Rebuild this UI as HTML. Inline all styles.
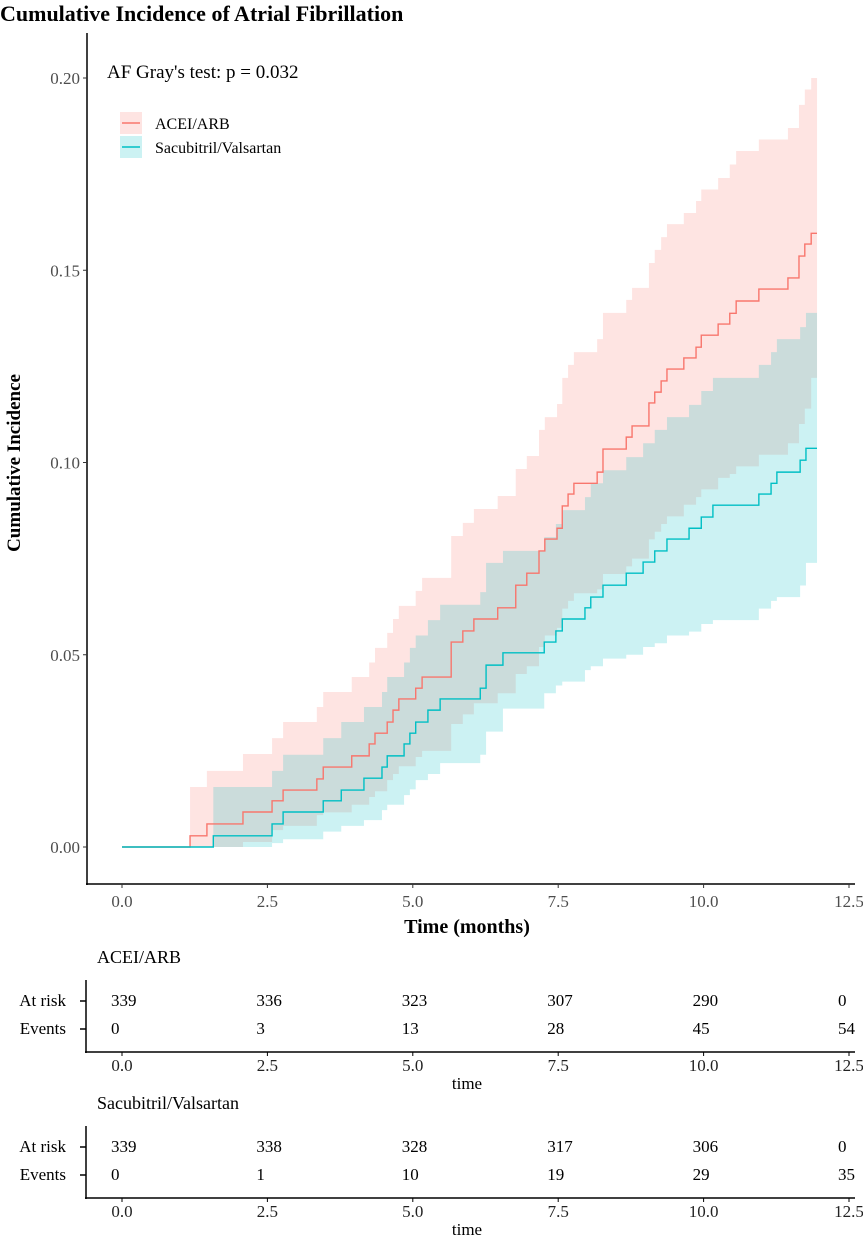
<!DOCTYPE html>
<html><head><meta charset="utf-8"><style>
html,body{margin:0;padding:0;background:#fff;}
svg{display:block;font-family:"Liberation Serif",serif;}
</style></head><body>
<svg id="c" width="863" height="1240" viewBox="0 0 863 1240">
<text x="0" y="21" font-size="22" font-weight="bold" fill="#000">Cumulative Incidence of Atrial Fibrillation</text>
<g id="plot"></g>
<line x1="87" y1="33" x2="87" y2="885" stroke="#000" stroke-width="1.5"/>
<line x1="86" y1="884" x2="855" y2="884" stroke="#000" stroke-width="1.5"/>
<g id="yticks"></g>
<g id="xticks"></g>
<text x="467" y="933" font-size="20" font-weight="bold" text-anchor="middle">Time (months)</text>
<text transform="translate(20,463) rotate(-90)" font-size="19" font-weight="bold" text-anchor="middle">Cumulative Incidence</text>
<text x="107" y="78" font-size="19">AF Gray's test: p = 0.032</text>
<g>
<rect x="120" y="112" width="22" height="22" fill="#F8766D" fill-opacity="0.2"/>
<line x1="122" y1="123" x2="140" y2="123" stroke="#F8766D" stroke-width="1.5"/>
<text x="155" y="129" font-size="16">ACEI/ARB</text>
<rect x="120" y="136" width="22" height="22" fill="#00BFC4" fill-opacity="0.2"/>
<line x1="122" y1="147" x2="140" y2="147" stroke="#00BFC4" stroke-width="1.5"/>
<text x="155" y="153" font-size="16">Sacubitril/Valsartan</text>
</g>
<g id="tables"></g>
</svg>
<script>
const aceiTimes=[0,1.17,1.46,2.08,2.58,2.77,3.35,3.46,3.95,4.25,4.35,4.56,4.66,4.76,5.05,5.16,5.66,5.86,6.05,6.46,6.77,6.96,7.17,7.27,7.48,7.57,7.67,7.77,8.17,8.27,8.67,8.77,9.06,9.16,9.27,9.37,9.66,9.87,9.96,10.25,10.45,10.56,10.95,11.45,11.64,11.74,11.85];
const aceiEst=[0,.0029,.006,.0091,.012,.0148,.0177,.0208,.0237,.0268,.0296,.0325,.0356,.0385,.0413,.0442,.0533,.0562,.0593,.0622,.0681,.0712,.077,.0801,.0829,.0887,.0918,.0946,.0975,.1035,.1066,.1095,.1155,.1183,.1212,.1243,.1272,.13,.1331,.136,.1388,.142,.1451,.148,.1537,.1568,.1596];
const aceiUpper=[0,.0156,.0198,.0242,.0283,.0325,.0364,.0403,.0442,.048,.0518,.0557,.0593,.0627,.0666,.07,.0809,.0843,.0879,.0913,.0983,.1017,.1085,.1118,.1152,.122,.1254,.1287,.1321,.1389,.1423,.1454,.1519,.1553,.1586,.162,.1649,.168,.171,.174,.1775,.181,.184,.187,.193,.197,.2];
const aceiLower=[0,0,0,.0013,.0044,.0055,.0083,.009,.011,.013,.0145,.0174,.019,.021,.0234,.025,.032,.0345,.0374,.04,.045,.047,.052,.055,.057,.062,.064,.066,.067,.071,.073,.075,.08,.082,.084,.086,.089,.091,.093,.096,.097,.099,.102,.105,.11,.114,.122];
const sacTimes=[0,1.57,2.58,2.77,3.46,3.77,4.16,4.47,4.56,4.85,4.95,5.05,5.26,5.47,6.16,6.26,6.55,7.26,7.46,7.57,7.96,8.06,8.27,8.67,8.96,9.16,9.37,9.75,9.96,10.16,10.95,11.16,11.26,11.66,11.76];
const sacEst=[0,.0029,.006,.0091,.012,.0148,.0179,.0208,.0237,.0268,.0296,.0325,.0356,.0385,.0413,.0473,.0505,.0533,.0562,.0593,.0622,.065,.0681,.0712,.0741,.077,.0801,.0829,.0858,.0889,.0918,.0946,.0975,.1006,.1037];
const sacUpper=[0,.0156,.0198,.024,.0283,.0325,.0364,.0403,.0442,.048,.0518,.055,.059,.063,.0663,.0739,.077,.0806,.084,.0876,.091,.0946,.098,.1014,.105,.1085,.1118,.115,.1186,.122,.1254,.1287,.1321,.1352,.1389];
const sacLower=[0,0,.001,.002,.004,.0055,.007,.0096,.011,.0135,.015,.0174,.019,.0218,.024,.03,.036,.04,.042,.043,.046,.047,.049,.05,.052,.053,.055,.056,.058,.059,.062,.064,.065,.068,.0739];
const endTime=11.95;
const xTicks=[0,2.5,5,7.5,10,12.5];
const xTickLabels=["0.0","2.5","5.0","7.5","10.0","12.5"];
const yTicks=[0,0.05,0.1,0.15,0.2];
const yTickLabels=["0.00","0.05","0.10","0.15","0.20"];
const aceiAtRisk=[339,336,323,307,290,0];
const aceiEvents=[0,3,13,28,45,54];
const sacAtRisk=[339,338,328,317,306,0];
const sacEvents=[0,1,10,19,29,35];

const NS="http://www.w3.org/2000/svg";
const X=t=>122+t*58.16;
const Y=v=>847-v*3845;
function mk(tag,attrs,parent){const e=document.createElementNS(NS,tag);for(const k in attrs)e.setAttribute(k,attrs[k]);parent.appendChild(e);return e;}
function stepPath(ts,vs){let d=`M${X(ts[0])},${Y(vs[0])}`;for(let i=1;i<ts.length;i++){d+=`H${X(ts[i])}V${Y(vs[i])}`;}d+=`H${X(endTime)}`;return d;}
function bandPath(ts,up,lo){let d=`M${X(ts[0])},${Y(up[0])}`;for(let i=1;i<ts.length;i++){d+=`H${X(ts[i])}V${Y(up[i])}`;}d+=`H${X(endTime)}V${Y(lo[lo.length-1])}`;for(let i=ts.length-1;i>0;i--){d+=`H${X(ts[i])}V${Y(lo[i-1])}`;}d+=`H${X(ts[0])}Z`;return d;}
const plot=document.getElementById('plot');
const b1=mk('path',{d:bandPath(aceiTimes,aceiUpper,aceiLower),fill:'#F8766D','fill-opacity':0.2},plot);


const b2=mk('path',{d:bandPath(sacTimes,sacUpper,sacLower),fill:'#00BFC4','fill-opacity':0.2},plot);


const l1=mk('path',{d:stepPath(aceiTimes,aceiEst),fill:'none',stroke:'#F8766D','stroke-width':1.4},plot);


const l2=mk('path',{d:stepPath(sacTimes,sacEst),fill:'none',stroke:'#00BFC4','stroke-width':1.4},plot);


const yt=document.getElementById('yticks');
yTicks.forEach((v,i)=>{
 mk('line',{x1:83,x2:87,y1:Y(v),y2:Y(v),stroke:'#333'},yt);
 const t=mk('text',{x:80,y:Y(v)+6,'font-size':17,'text-anchor':'end',fill:'#4d4d4d'},yt);
 t.textContent=yTickLabels[i];
 
 
});
const xt=document.getElementById('xticks');
xTicks.forEach((v,i)=>{
 mk('line',{x1:X(v),x2:X(v),y1:884,y2:888,stroke:'#333'},xt);
 const t=mk('text',{x:X(v),y:907,'font-size':17,'text-anchor':'middle',fill:'#4d4d4d'},xt);
 t.textContent=xTickLabels[i];
 
 
});
const tb=document.getElementById('tables');
function table(title,top,risk,ev,key){
 const g=mk('g',{},tb);
 
 
 const tt=mk('text',{x:97,y:top,'font-size':18},g);tt.textContent=title;
 
 
 const r=top+43,e=top+71,ax=top+89;
 mk('line',{x1:86,x2:86,y1:top+17,y2:ax+1,stroke:'#000','stroke-width':1.5},g);
 mk('line',{x1:85,x2:855,y1:ax,y2:ax,stroke:'#000','stroke-width':1.5},g);
 [[r,'At risk'],[e,'Events']].forEach(([y,lab])=>{
  mk('line',{x1:80,x2:86,y1:y-5,y2:y-5,stroke:'#000','stroke-width':1.5},g);
  const l=mk('text',{x:66,y:y,'font-size':17,'text-anchor':'end'},g);l.textContent=lab;
  
  
 });
 xTicks.forEach((v,i)=>{
  const a=mk('text',{x:X(v)-11,y:r,'font-size':17},g);a.textContent=risk[i];
  
  
  const b=mk('text',{x:X(v)-11,y:e,'font-size':17},g);b.textContent=ev[i];
  
  
  mk('line',{x1:X(v),x2:X(v),y1:ax,y2:ax+4,stroke:'#000'},g);
  const k=mk('text',{x:X(v),y:ax+19,'font-size':17,'text-anchor':'middle',fill:'#222'},g);k.textContent=xTickLabels[i];
  
  
 });
 const tl=mk('text',{x:467,y:ax+37,'font-size':17,'text-anchor':'middle'},g);tl.textContent='time';
 
 
}
table('ACEI/ARB',963,aceiAtRisk,aceiEvents,'acei');
table('Sacubitril/Valsartan',1109,sacAtRisk,sacEvents,'sacubitril');
</script>
</body></html>
